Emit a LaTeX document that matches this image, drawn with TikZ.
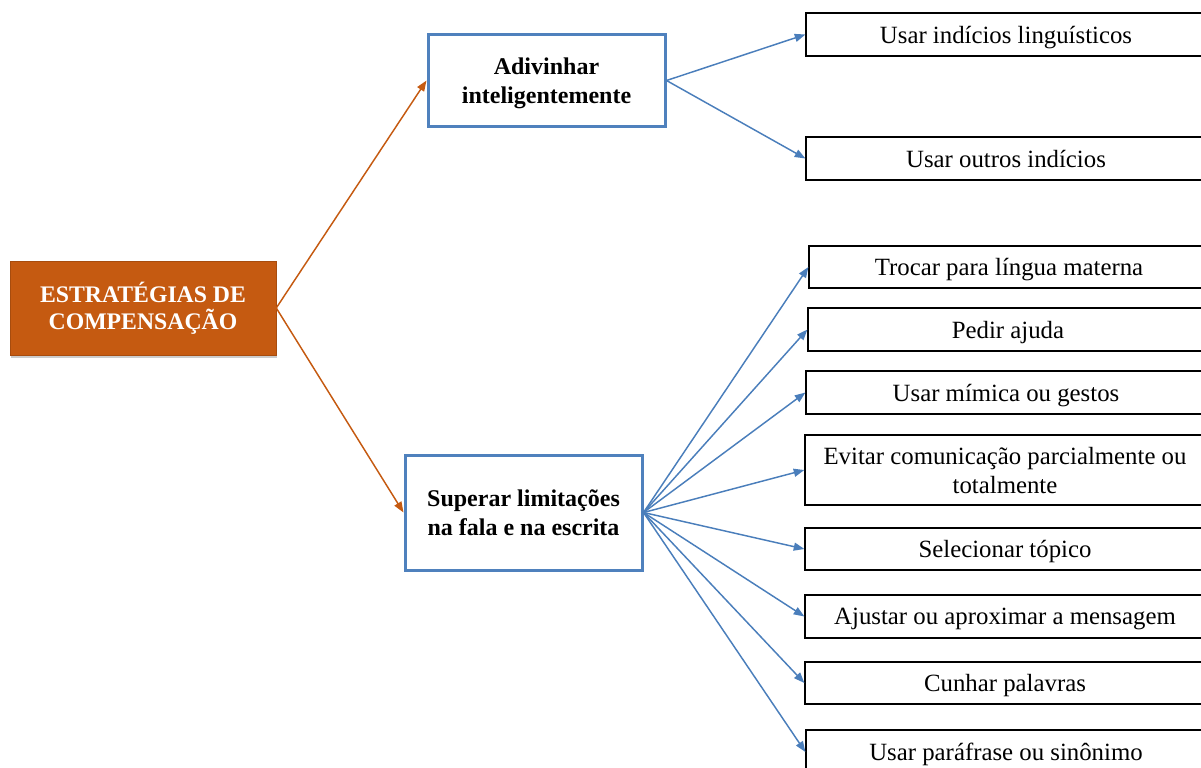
\documentclass[tikz,border=0pt]{standalone}
\usepackage{fontspec}
\setmainfont{Liberation Serif}
\usetikzlibrary{arrows.meta,shadows}
\definecolor{rootfill}{HTML}{C55A11}
\definecolor{midblue}{HTML}{4F81BD}
\definecolor{linkblue}{HTML}{4A7EBB}
\begin{document}
\begin{tikzpicture}[x=0.75pt,y=-0.75pt,
  rootbox/.style={draw=rootfill!85!black, fill=rootfill, text=white, font=\fontsize{17.8}{20.5}\selectfont\bfseries,
    align=center, minimum width=199.5pt, minimum height=70.5pt, inner sep=0pt,
    drop shadow={opacity=0.4, shadow xshift=1pt, shadow yshift=-2.5pt}},
  midbox/.style={draw=midblue, line width=2.25pt, fill=white, font=\fontsize{18}{21.75}\selectfont\bfseries,
    align=center, minimum width=177.75pt, inner sep=0pt, text depth=-1pt},
  leafbox/.style={draw=black, line width=0.9pt, fill=white, font=\fontsize{18.6}{21.75}\selectfont,
    align=center, minimum width=300pt, inner sep=0pt, text depth=0pt},
  orangelink/.style={draw=rootfill, line width=1.1pt, -{Triangle[length=8pt,width=6pt]}},
  bluelink/.style={draw=linkblue, line width=1.1pt, -{Triangle[length=8pt,width=6pt]}}
]
\useasboundingbox (0,0) rectangle (1201,767);
\clip (0,0) rectangle (1201,767);

% root and the two branches
\node[rootbox] (root) at (143,308) {ESTRATÉGIAS DE\\COMPENSAÇÃO};
\node[midbox, minimum height=68.25pt] (guess) at (546.5,80.5) {Adivinhar\\inteligentemente};
\node[midbox, minimum height=86.25pt, text depth=-3pt] (over) at (523.5,512.5) {Superar limitações\\na fala e na escrita};

% leaves of the first branch
\node[leafbox, minimum height=32.25pt] (l1) at (1006,34.5) {Usar indícios linguísticos};
\node[leafbox, minimum height=32.25pt] (l2) at (1006,158.5) {Usar outros indícios};

% leaves of the second branch
\node[leafbox, minimum height=31.5pt] (m1) at (1009,267) {Trocar para língua materna};
\node[leafbox, minimum height=32.25pt] (m2) at (1008,329.5) {Pedir ajuda};
\node[leafbox, minimum height=32.25pt] (m3) at (1006,392.5) {Usar mímica ou gestos};
\node[leafbox, minimum height=52.5pt] (m4) at (1005,470) {Evitar comunicação parcialmente ou\\totalmente};
\node[leafbox, minimum height=31.5pt] (m5) at (1005,549) {Selecionar tópico};
\node[leafbox, minimum height=32.25pt] (m6) at (1005,616.5) {Ajustar ou aproximar a mensagem};
\node[leafbox, minimum height=31.5pt] (m7) at (1005,683) {Cunhar palavras};
\node[leafbox, minimum height=33pt] (m8) at (1006,752) {Usar paráfrase ou sinônimo};

% connectors
\draw[orangelink] (root.east) -- (guess.west);
\draw[orangelink] (root.east) -- (over.west);
\foreach \t in {l1,l2}
  \draw[bluelink] (guess.east) -- (\t.west);
\foreach \t in {m1,m2,m3,m4,m5,m6,m7,m8}
  \draw[bluelink] (over.east) -- (\t.west);
\end{tikzpicture}
\end{document}
